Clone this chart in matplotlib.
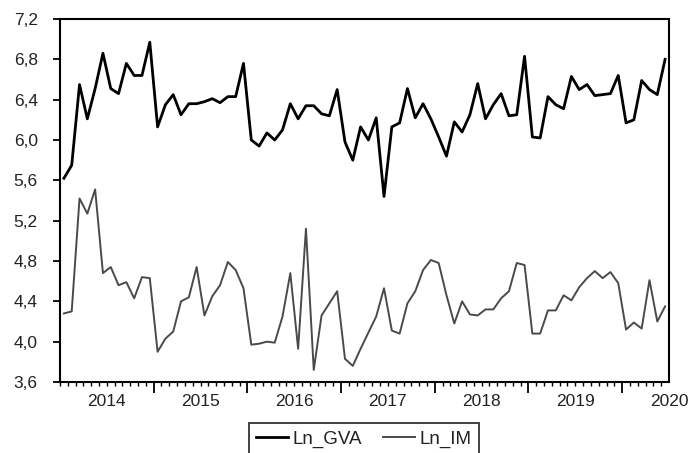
import numpy as np
import matplotlib
matplotlib.use("Agg")
import matplotlib.pyplot as plt
from matplotlib.ticker import FixedLocator, FuncFormatter

plt.rcParams['font.family'] = ['Liberation Sans', 'DejaVu Sans']

# monthly observations, Jan 2014 .. Jun 2020
ln_gva = [5.62, 5.75, 6.55, 6.21, 6.51, 6.86, 6.51, 6.46, 6.76, 6.64, 6.64, 6.97,
          6.13, 6.35, 6.45, 6.25, 6.36, 6.36, 6.38, 6.41, 6.37, 6.43, 6.43, 6.76,
          6.00, 5.94, 6.07, 6.00, 6.10, 6.36, 6.21, 6.34, 6.34, 6.26, 6.24, 6.50,
          5.98, 5.80, 6.13, 6.00, 6.22, 5.44, 6.13, 6.17, 6.51, 6.22, 6.36, 6.21,
          6.03, 5.84, 6.18, 6.08, 6.25, 6.56, 6.21, 6.35, 6.46, 6.24, 6.25, 6.83,
          6.03, 6.02, 6.43, 6.35, 6.31, 6.63, 6.50, 6.55, 6.44, 6.45, 6.46, 6.64,
          6.17, 6.20, 6.59, 6.50, 6.45, 6.80]
ln_im = [4.28, 4.30, 5.42, 5.27, 5.51, 4.68, 4.74, 4.56, 4.59, 4.43, 4.64, 4.63,
         3.90, 4.03, 4.10, 4.40, 4.44, 4.74, 4.26, 4.45, 4.56, 4.79, 4.71, 4.53,
         3.97, 3.98, 4.00, 3.99, 4.25, 4.68, 3.93, 5.12, 3.72, 4.26, 4.38, 4.50,
         3.83, 3.76, 3.93, 4.09, 4.25, 4.53, 4.11, 4.08, 4.38, 4.50, 4.71, 4.81,
         4.78, 4.46, 4.18, 4.40, 4.27, 4.26, 4.32, 4.32, 4.43, 4.50, 4.78, 4.76,
         4.08, 4.08, 4.31, 4.31, 4.46, 4.41, 4.54, 4.63, 4.70, 4.63, 4.69, 4.58,
         4.12, 4.19, 4.13, 4.61, 4.20, 4.35]
year_labels = [2014, 2015, 2016, 2017, 2018, 2019, 2020]

t = 2014 + (np.arange(len(ln_gva)) + 0.5) / 12

fig = plt.figure(figsize=(6.91, 4.53), dpi=100)
ax = fig.add_axes([60 / 691, 1 - 382 / 453, 609 / 691, 363 / 453])

ax.plot(t, ln_gva, color='black', lw=2.0, label='Ln_GVA')
ax.plot(t, ln_im, color='#4a4a4a', lw=1.4, label='Ln_IM')

ax.set_xlim(2014, 2020.5)
ax.set_ylim(3.6, 7.2)

# y axis: comma decimals
ax.set_yticks(np.arange(3.6, 7.21, 0.4))
ax.yaxis.set_major_formatter(FuncFormatter(lambda v, p: f"{v:.1f}".replace('.', ',')))
ax.tick_params(axis='y', direction='out', length=5, width=1.3, pad=11,
               labelsize=12.5, labelcolor='#222222')

# x axis: year boundaries as major ticks, months as minor ticks
ax.xaxis.set_major_locator(FixedLocator(np.arange(2015, 2021)))
ax.xaxis.set_minor_locator(FixedLocator(np.arange(2014, 2020.5, 1 / 12)))
ax.tick_params(axis='x', which='major', direction='out', length=8, width=1.3,
               labelbottom=False)
ax.tick_params(axis='x', which='minor', direction='out', length=3, width=1.0)

# year labels centred in each year
sec = ax.secondary_xaxis('bottom')
sec.set_xticks([y + 0.5 for y in year_labels])
sec.set_xticklabels([str(y) for y in year_labels])
sec.tick_params(length=0, pad=9, labelsize=12.5, labelcolor='#222222')
sec.spines['bottom'].set_visible(False)

for s in ax.spines.values():
    s.set_linewidth(1.5)

leg = fig.legend(loc='upper center', bbox_to_anchor=(364 / 691, 1 - 423 / 453),
                 borderaxespad=0, ncol=2, frameon=True, fancybox=False,
                 fontsize=13.5, handlelength=1.7, handletextpad=0.25,
                 columnspacing=1.1, borderpad=0.4, edgecolor='black')
leg.get_frame().set_linewidth(1.3)
for txt in leg.get_texts():
    txt.set_color('#222222')

fig.savefig('out.png', dpi=100)
